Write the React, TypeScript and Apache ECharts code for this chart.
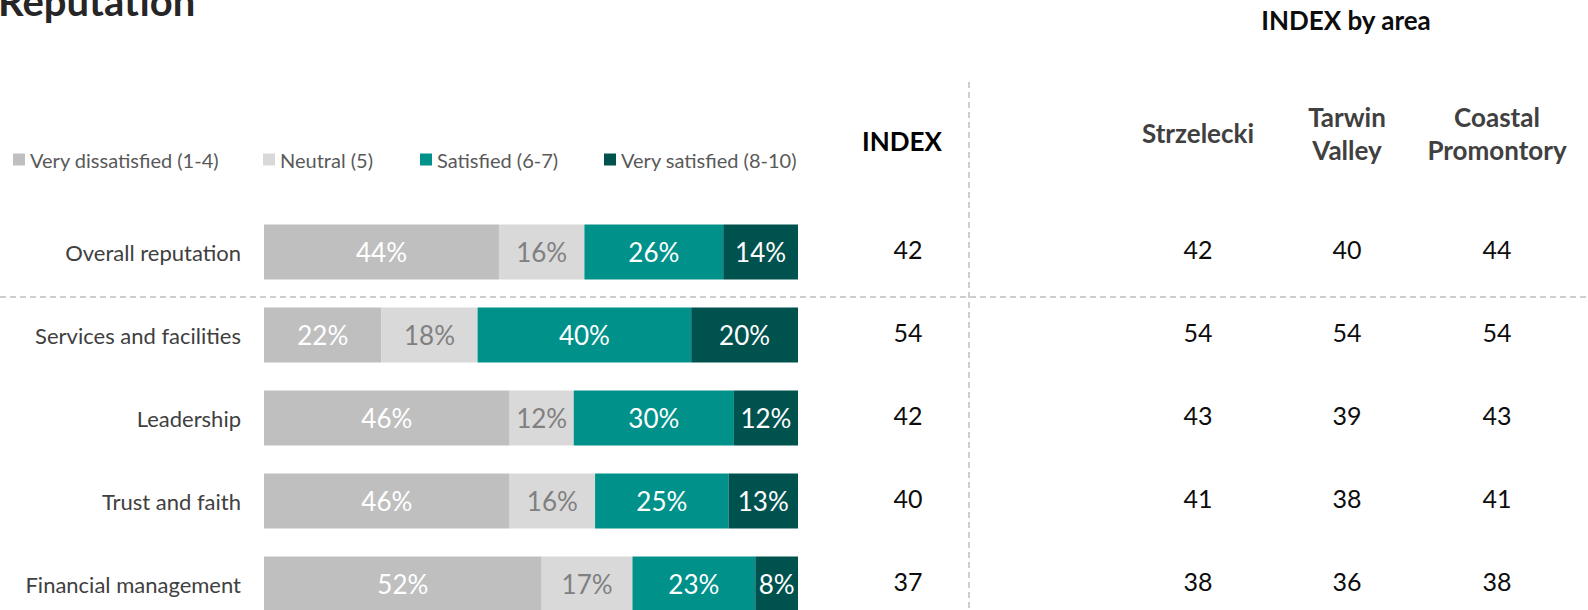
import React, { useEffect, useRef } from "react";
import * as echarts from "echarts";

const categories = [
  "Overall reputation",
  "Services and facilities",
  "Leadership",
  "Trust and faith",
  "Financial management",
];
const seriesNames = [
  "Very dissatisfied (1-4)",
  "Neutral (5)",
  "Satisfied (6-7)",
  "Very satisfied (8-10)",
];
const veryDissatisfied = [44, 22, 46, 46, 52];
const neutral = [16, 18, 12, 16, 17];
const satisfied = [26, 40, 30, 25, 23];
const verySatisfied = [14, 20, 12, 13, 8];

const indexValues = [42, 54, 42, 40, 37];
const strzelecki = [42, 54, 43, 41, 38];
const tarwinValley = [40, 54, 39, 38, 36];
const coastalPromontory = [44, 54, 43, 41, 38];

const areaHeaders = ["Strzelecki", "Tarwin\nValley", "Coastal\nPromontory"];
const titleText = "Reputation";
const indexHeader = "INDEX";
const areaTitle = "INDEX by area";

const FONT = "Lato, 'Noto Sans', sans-serif";
const colors = ["#BFBFBF", "#D9D9D9", "#00918A", "#00524F"];
const labelColors = ["#FFFFFF", "#808080", "#FFFFFF", "#FFFFFF"];

export default function App() {
  const ref = useRef<HTMLDivElement>(null);
  useEffect(() => {
    if (!ref.current) return;
    const chart = echarts.init(ref.current, undefined, { renderer: "svg" });
    const gridLeft = 264;
    const gridRight = 798;
    const seriesData = [veryDissatisfied, neutral, satisfied, verySatisfied];
    const valueCols: { data: number[]; x: number }[] = [
      { data: indexValues, x: 908 },
      { data: strzelecki, x: 1198 },
      { data: tarwinValley, x: 1347 },
      { data: coastalPromontory, x: 1497 },
    ];
    const legendLefts = [13, 263, 420, 604];
    const option: any = {
      animation: false,
      backgroundColor: "#FFFFFF",
      grid: { left: gridLeft, top: 210.5, width: gridRight - gridLeft, height: 415 },
      legend: seriesNames.map((n, i) => ({
        data: [n],
        left: legendLefts[i],
        top: 147.5,
        padding: 0,
        icon: "rect",
        itemWidth: 12,
        itemHeight: 12,
        selectedMode: false,
        textStyle: { fontFamily: FONT, fontSize: 20, color: "#595959", lineHeight: 24 },
      })),
      xAxis: { type: "value", min: 0, max: 100, show: false },
      yAxis: [
        {
          type: "category",
          data: categories,
          inverse: true,
          axisLine: { show: false },
          axisTick: { show: false },
          splitLine: { show: false },
          axisLabel: { margin: 23, fontFamily: FONT, fontSize: 22, color: "#404040" },
        },
        ...valueCols.map((c) => ({
          type: "category",
          data: categories,
          inverse: true,
          position: "right",
          offset: c.x - gridRight,
          axisLine: { show: false },
          axisTick: { show: false },
          splitLine: { show: false },
          axisLabel: {
            margin: 0,
            align: "center",
            fontFamily: FONT,
            fontSize: 25,
            color: "#0D0D0D",
            formatter: (_v: string, i: number) => `{v|${c.data[i]}}`,
            rich: {
              v: {
                fontFamily: FONT,
                fontSize: 25,
                color: "#0D0D0D",
                lineHeight: 30,
                padding: [0, 0, 6, 0],
              },
            },
          },
        })),
      ],
      series: seriesNames.map((n, i) => ({
        name: n,
        type: "bar",
        stack: "total",
        barWidth: 55,
        data: seriesData[i],
        itemStyle: { color: colors[i] },
        label: {
          show: true,
          position: "inside",
          formatter: "{c}%",
          fontFamily: FONT,
          fontSize: 26,
          color: labelColors[i],
        },
      })),
      graphic: [
        {
          type: "text",
          left: -2,
          top: -19,
          style: { text: titleText, font: `bold 40px ${FONT}`, fill: "#262626" },
        },
        {
          type: "line",
          shape: { x1: 0, y1: 297, x2: 1588, y2: 297 },
          style: { stroke: "#BFBFBF", lineWidth: 1.5, lineDash: [6, 4] },
        },
        {
          type: "line",
          shape: { x1: 969, y1: 82, x2: 969, y2: 640 },
          style: { stroke: "#BFBFBF", lineWidth: 1.5, lineDash: [6, 4] },
        },
        {
          type: "text",
          x: 902,
          y: 140.5,
          style: {
            text: indexHeader,
            font: `bold 26px ${FONT}`,
            fill: "#000000",
            textAlign: "center",
            textVerticalAlign: "middle",
          },
        },
        {
          type: "text",
          x: 1346,
          y: 20,
          style: {
            text: areaTitle,
            font: `bold 26px ${FONT}`,
            fill: "#0D0D0D",
            textAlign: "center",
            textVerticalAlign: "middle",
          },
        },
        ...areaHeaders.map((h, i) => ({
          type: "text",
          x: valueCols[i + 1].x,
          y: 133,
          style: {
            text: h,
            font: `bold 26px ${FONT}`,
            fill: "#404040",
            textAlign: "center",
            textVerticalAlign: "middle",
            lineHeight: 33,
          },
        })),
      ],
    };
    chart.setOption(option);
    return () => chart.dispose();
  }, []);
  return (
    <div
      ref={ref}
      style={{ position: "fixed", left: 0, top: 0, width: 1588, height: 640 }}
    />
  );
}
